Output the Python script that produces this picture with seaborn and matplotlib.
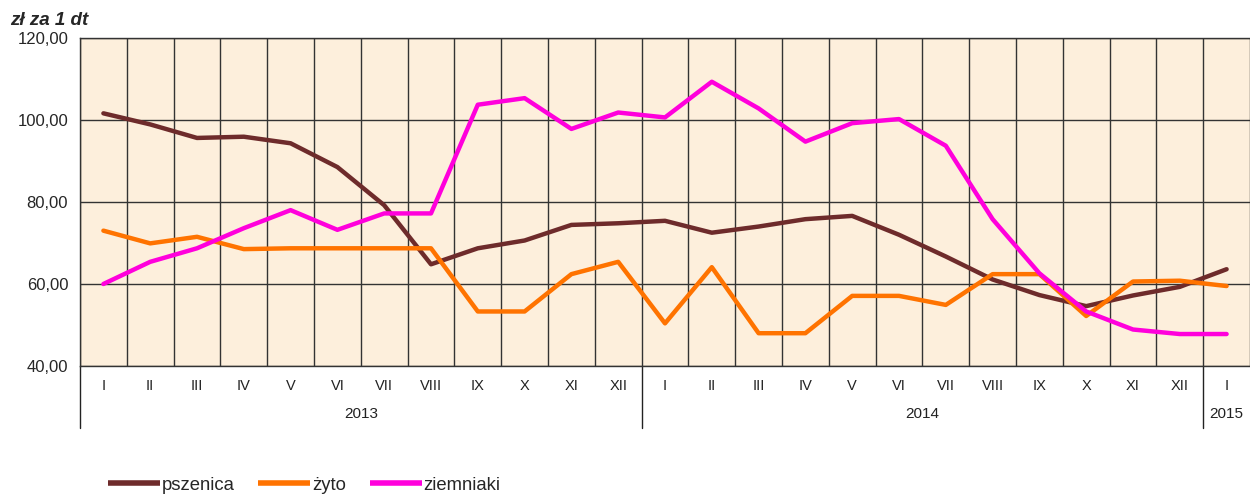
import numpy as np
import pandas as pd
import matplotlib
matplotlib.use("Agg")
from matplotlib import pyplot as plt
import matplotlib.transforms as mtransforms
import seaborn as sns

# Dane (zł za 1 dt)
months = ["I", "II", "III", "IV", "V", "VI", "VII", "VIII", "IX", "X", "XI", "XII",
          "I", "II", "III", "IV", "V", "VI", "VII", "VIII", "IX", "X", "XI", "XII",
          "I"]
years = ["2013", "2014", "2015"]
pszenica = [101.6, 98.9, 95.6, 95.9, 94.3, 88.5, 79.2, 64.8, 68.7, 70.6, 74.4, 74.8,
            75.4, 72.5, 74.0, 75.8, 76.6, 72.0, 66.7, 61.1, 57.3, 54.6, 57.2, 59.3,
            63.6]
zyto = [73.0, 69.9, 71.5, 68.5, 68.7, 68.7, 68.7, 68.7, 53.3, 53.3, 62.4, 65.4,
        50.4, 64.1, 48.0, 48.0, 57.1, 57.1, 54.9, 62.4, 62.4, 52.2, 60.6, 60.8,
        59.5]
ziemniaki = [60.0, 65.4, 68.7, 73.6, 78.0, 73.2, 77.2, 77.2, 103.7, 105.3, 97.8, 101.8,
             100.6, 109.3, 102.8, 94.7, 99.2, 100.2, 93.7, 75.8, 62.6, 53.3, 48.9, 47.8,
             47.8]
series_names = ["pszenica", "żyto", "ziemniaki"]
colors = ["#6E2B2B", "#FF7300", "#FF00DC"]

idx = np.arange(len(months))
df = pd.DataFrame({
    "idx": np.tile(idx, 3),
    "cena": pszenica + zyto + ziemniaki,
    "produkt": np.repeat(series_names, len(months)),
})

sns.set_style("white")
plt.rcParams["font.family"] = ["Liberation Sans", "DejaVu Sans"]

fig = plt.figure(figsize=(12.5, 4.98), dpi=100)
ax = fig.add_axes([0.064, 0.265, 0.936, 0.659])
ax.set_facecolor("#FDEFDC")

sns.lineplot(data=df, x="idx", y="cena", hue="produkt", palette=colors,
             hue_order=series_names, linewidth=3.2, ax=ax, legend=False,
             zorder=3)

ax.set_xlim(-0.5, len(months) - 0.5)
ax.set_ylim(40, 120)
ax.set_yticks([40, 60, 80, 100, 120])
ax.set_yticklabels([f"{v:.2f}".replace(".", ",") for v in [40, 60, 80, 100, 120]],
                   fontsize=12)
ax.set_xticks(idx)
ax.set_xticklabels(months, fontsize=10.5, color="#222222")
ax.set_xticks(np.arange(-0.5, len(months)), minor=True)
ax.tick_params(axis="x", which="major", length=0, pad=9)
ax.tick_params(axis="x", which="minor", length=22, width=1, color="#222222")
ax.tick_params(axis="y", length=5, width=1, color="#222222")
ax.grid(which="minor", axis="x", color="#333333", linewidth=1)
ax.grid(which="major", axis="y", color="#333333", linewidth=1)
ax.set_axisbelow(True)
ax.set_xlabel("")
ax.set_ylabel("")
for s in ["left", "top", "bottom"]:
    ax.spines[s].set_color("#333333")
    ax.spines[s].set_linewidth(1)
ax.spines["right"].set_visible(False)

# separatory lat i podpisy lat
trans = mtransforms.blended_transform_factory(ax.transData, ax.transAxes)
for xs in [-0.5, 11.5, 23.5]:
    ax.plot([xs, xs], [0, -0.19], transform=trans, color="#222222",
            linewidth=1, clip_on=False)
for xpos, label in zip([5.5, 17.5, 24.0], years):
    ax.text(xpos, -0.145, label, transform=trans, ha="center", va="center",
            fontsize=11, color="#222222")

fig.text(0.008, 0.958, "zł za 1 dt", fontsize=13.5, fontweight="bold",
         fontstyle="italic", ha="left", va="center")

handles = [plt.Line2D([], [], color=c, linewidth=4, solid_capstyle="butt")
           for c in colors]
fig.legend(handles, series_names, loc="lower left", bbox_to_anchor=(0.073, -0.025),
           ncol=3, frameon=False, fontsize=13.3, handlelength=2.8,
           handletextpad=0.1, columnspacing=1.3)

plt.savefig("out.png", dpi=100)
